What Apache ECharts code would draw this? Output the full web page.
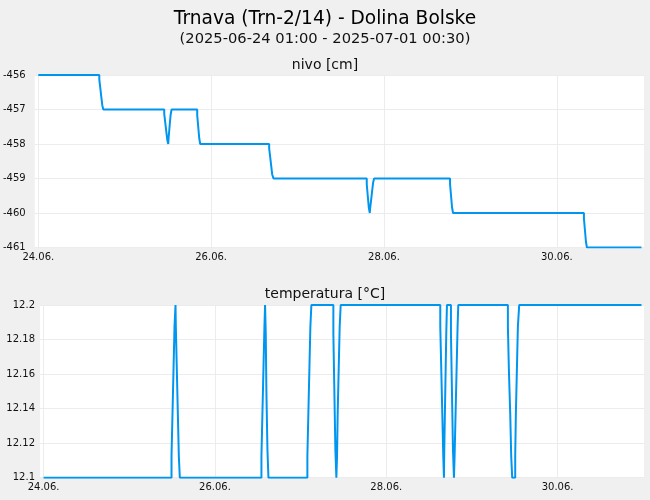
<!DOCTYPE html>
<html lang="sk">
<head>
    <meta charset="UTF-8">
    <title>Trnava (Trn-2/14) - Dolina Bolske</title>
    <style>
        html, body { margin: 0; padding: 0; background: #f0f0f0; }
        #main { width: 650px; height: 500px; }
    </style>
</head>
<body>
<div id="main"></div>
<script src="https://cdn.jsdelivr.net/npm/echarts@6/dist/echarts.min.js"></script>
<script>
    // hodiny od 24.06. 01:00
    var tickHours = [0, 48, 96, 144];
    var tickLabels = ['24.06.', '26.06.', '28.06.', '30.06.'];

    // nivo [cm] - body zmeny (schod)
    var nivoHours = [0, 16.94, 17.21, 17.49, 17.77, 18.05,
        34.97, 35.25, 35.53, 35.81, 36.08, 36.18, 36.45, 36.73, 37.01,
        44.13, 44.41, 44.69, 44.96,
        64.11, 64.39, 64.67, 64.94, 65.31,
        91.21, 91.49, 91.77, 92.05, 92.14, 92.42, 92.69, 92.97, 93.25,
        114.34, 114.62, 114.89, 115.17,
        151.52, 151.80, 152.08, 152.35, 167.5];
    var nivoValues = [-456, -456.125, -456.375, -456.625, -456.875, -457,
        -457.125, -457.375, -457.625, -457.875, -458, -457.833, -457.5, -457.167, -457,
        -457.167, -457.5, -457.833, -458,
        -458.125, -458.375, -458.625, -458.875, -459,
        -459.167, -459.5, -459.833, -460, -459.875, -459.625, -459.375, -459.125, -459,
        -459.167, -459.5, -459.833, -460,
        -460.167, -460.5, -460.833, -461, -461];

    // temperatura [°C]
    var tempHours = [0,
        35.84, 36.12, 36.40, 36.68, 36.96, 37.05, 37.33, 37.61, 37.89, 38.17,
        61.03, 61.31, 61.59, 61.87, 62.05, 62.24, 62.42, 62.71, 62.99,
        73.90, 74.18, 74.46, 74.74, 75.02,
        81.18, 81.46, 81.74, 82.02, 82.21, 82.39, 82.67, 82.95, 83.23,
        111.13, 111.41, 111.69, 111.97, 112.16, 112.25, 112.53, 112.81, 113.0,
        114.12, 114.40, 114.68, 114.96, 115.14, 115.42, 115.70, 115.98, 116.17,
        130.07, 130.35, 130.72, 131.0, 131.28, 132.12, 132.31, 132.59, 132.87, 133.24,
        167.5];
    var tempValues = [12.1,
        12.1125, 12.1375, 12.1625, 12.1875, 12.2, 12.1875, 12.1625, 12.1375, 12.1125, 12.1,
        12.1125, 12.1375, 12.1625, 12.1875, 12.2, 12.1835, 12.15, 12.1165, 12.1,
        12.1125, 12.1375, 12.1625, 12.1875, 12.2,
        12.1835, 12.15, 12.1165, 12.1, 12.1125, 12.1375, 12.1625, 12.1875, 12.2,
        12.1875, 12.1625, 12.1375, 12.1125, 12.1, 12.1165, 12.15, 12.1835, 12.2,
        12.1835, 12.15, 12.1165, 12.1, 12.1125, 12.1375, 12.1625, 12.1875, 12.2,
        12.1875, 12.1625, 12.1375, 12.1125, 12.1, 12.1125, 12.1375, 12.1625, 12.1875, 12.2,
        12.2];

    function zip(xs, ys) {
        return xs.map(function (x, i) { return [x, ys[i]]; });
    }

    var font = 'DejaVu Sans';
    var lineColor = '#0096f0';
    var gridColor = '#ececec';

    function xAxis(idx) {
        return {
            type: 'value', gridIndex: idx, min: -1, max: 168.2,
            axisLine: { show: false },
            axisTick: { show: false, customValues: tickHours },
            axisLabel: {
                customValues: tickHours, margin: 5, color: '#111', fontSize: 10, fontFamily: font,
                formatter: function (v) { return tickLabels[tickHours.indexOf(v)]; }
            },
            splitLine: { show: true, lineStyle: { color: gridColor, width: 1 } }
        };
    }

    function yAxis(idx, min, max, interval, margin) {
        return {
            type: 'value', gridIndex: idx, min: min, max: max, interval: interval,
            axisLine: { show: false },
            axisTick: { show: false },
            axisLabel: { margin: margin, color: '#111', fontSize: 10, fontFamily: font },
            splitLine: { show: true, lineStyle: { color: gridColor, width: 1 } }
        };
    }

    var chart = echarts.init(document.getElementById('main'));
    chart.setOption({
        backgroundColor: '#f0f0f0',
        animation: false,
        title: [
            { text: 'Trnava (Trn-2/14) - Dolina Bolske', left: 'center', top: 5,
                textStyle: { fontFamily: font, fontSize: 18.6, fontWeight: 'normal', color: '#000' } },
            { text: '(2025-06-24 01:00 - 2025-07-01 00:30)', left: 'center', top: 27,
                textStyle: { fontFamily: font, fontSize: 14.7, fontWeight: 'normal', color: '#111' } },
            { text: 'nivo [cm]', left: 'center', top: 53,
                textStyle: { fontFamily: font, fontSize: 14, fontWeight: 'normal', color: '#111' } },
            { text: 'temperatura [°C]', left: 'center', top: 282,
                textStyle: { fontFamily: font, fontSize: 14, fontWeight: 'normal', color: '#111' } }
        ],
        grid: [
            { left: 34, top: 75, width: 610, height: 172.5, show: true, backgroundColor: '#fff', borderWidth: 0 },
            { left: 40, top: 305, width: 604, height: 172.7, show: true, backgroundColor: '#fff', borderWidth: 0 }
        ],
        xAxis: [xAxis(0), xAxis(1)],
        yAxis: [
            yAxis(0, -461, -456, 1, 9),
            yAxis(1, 12.1, 12.2, 0.02, 5)
        ],
        series: [
            { type: 'line', xAxisIndex: 0, yAxisIndex: 0, step: 'end', showSymbol: false,
                lineStyle: { color: lineColor, width: 2 }, data: zip(nivoHours, nivoValues) },
            { type: 'line', xAxisIndex: 1, yAxisIndex: 1, step: 'end', showSymbol: false,
                lineStyle: { color: lineColor, width: 2 }, data: zip(tempHours, tempValues) }
        ]
    });
</script>
</body>
</html>
